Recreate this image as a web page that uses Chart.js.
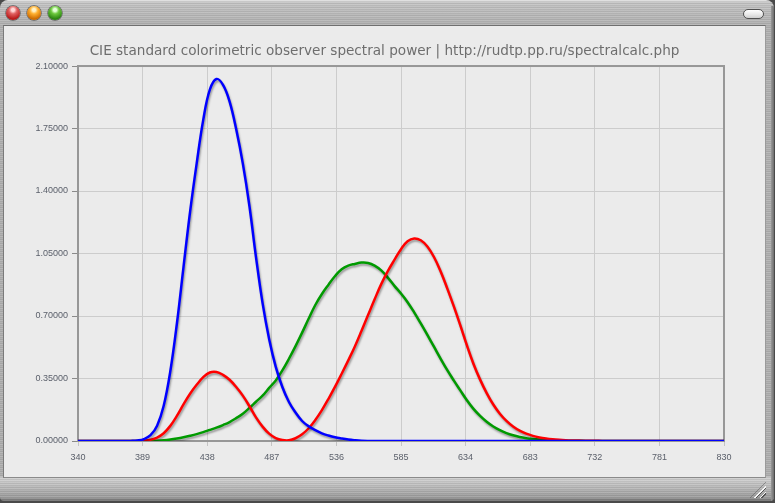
<!DOCTYPE html>
<html>
<head>
<meta charset="utf-8">
<script src="https://cdn.jsdelivr.net/npm/chart.js@4/dist/chart.umd.min.js"></script>
<style>
html,body{margin:0;padding:0;width:775px;height:503px;overflow:hidden;background:#4a4a4a;}
#win{position:absolute;left:0;top:0;width:774px;height:501px;border-radius:8px 8px 4px 4px;overflow:hidden;
 background:
  repeating-linear-gradient(to bottom, rgba(255,255,255,0.10) 0 1px, rgba(0,0,0,0.05) 1px 2px, rgba(255,255,255,0.03) 2px 3px, rgba(0,0,0,0.07) 3px 4px),
  linear-gradient(to bottom, #e2e2e2 0px, #c4c4c4 3px, #bcbcbc 12px, #b2b2b2 25px, #b0b0b0 476px, #d2d2d2 478px, #b8b8b8 488px, #9a9a9a 498px, #6a6a6a 501px);}
#win:after{content:"";position:absolute;right:0;top:6px;width:3px;bottom:0;background:linear-gradient(to right,#9a9a9a,#6e6e6e);}
#content{position:absolute;left:3px;top:25px;width:761px;height:451px;background:#ebebeb;border-top:1px solid #6f6f6f;border-left:1px solid #7a7a7a;border-right:1px solid #9a9a9a;border-bottom:1px solid #8a8a8a;}
.btn{position:absolute;top:6px;width:14px;height:14px;border-radius:50%;box-shadow:0 0 0 0.7px rgba(0,0,0,0.5);}
#b1{left:6px;background:radial-gradient(circle at 50% 28%, #ffd6d6 0 1.5px, #e06060 4px, #b81818 9px);}
#b2{left:27px;background:radial-gradient(circle at 50% 28%, #fff2c8 0 1.5px, #ffb030 4px, #cc6a00 9px);}
#b3{left:48px;background:radial-gradient(circle at 50% 28%, #e4ffd8 0 1.5px, #6cc83c 4px, #2a8410 9px);}
#pill{position:absolute;left:743px;top:9px;width:19px;height:8px;border-radius:5px;border:1px solid #505050;background:linear-gradient(to bottom,#ffffff,#e6e6e6 60%,#cfcfcf);}
#grip{position:absolute;left:750px;top:482px;width:16px;height:16px;
 background:repeating-linear-gradient(135deg, transparent 0 2px, #f4f4f4 2px 3px, #555 3px 4px);
 clip-path:polygon(100% 0,100% 100%,0 100%);}
#c{position:absolute;left:0;top:0;}
</style>
</head>
<body>
<div id="win">
 <div id="content"></div>
 <div class="btn" id="b1"></div><div class="btn" id="b2"></div><div class="btn" id="b3"></div>
 <div id="pill"></div>
 <div id="grip"></div>
</div>
<canvas id="c" width="769" height="503"></canvas>
<script>
const TITLE = 'CIE standard colorimetric observer spectral power | http://rudtp.pp.ru/spectralcalc.php';
const WAVELENGTHS = [340,345,350,355,360,365,370,375,380,385,390,395,400,405,410,415,420,425,430,435,440,445,450,455,460,465,470,475,480,485,490,495,500,505,510,515,520,525,530,535,540,545,550,555,560,565,570,575,580,585,590,595,600,605,610,615,620,625,630,635,640,645,650,655,660,665,670,675,680,685,690,695,700,705,710,715,720,725,730,735,740,745,750,755,760,765,770,775,780,785,790,795,800,805,810,815,820,825,830];
const X_BAR = [0,0,0,0,0,0,0,0,0.000160,0.000662,0.002362,0.007242,0.019110,0.043400,0.084736,0.140638,0.204492,0.264737,0.314679,0.357719,0.383734,0.386726,0.370702,0.342957,0.302273,0.254085,0.195618,0.132349,0.080507,0.041072,0.016172,0.005132,0.003816,0.015444,0.037465,0.071358,0.117749,0.172953,0.236491,0.304213,0.376772,0.451584,0.529826,0.616053,0.705224,0.793832,0.878655,0.951162,1.014160,1.074300,1.118520,1.134300,1.123990,1.089100,1.030480,0.950740,0.856297,0.754930,0.647467,0.535110,0.431567,0.343690,0.268329,0.204300,0.152568,0.112210,0.081261,0.057930,0.040851,0.028623,0.019941,0.013842,0.009577,0.006605,0.004553,0.003145,0.002175,0.001506,0.001045,0.000727,0.000508,0.000356,0.000251,0.000178,0.000126,0.000090,0.000065,0.000046,0.000033,0,0,0,0,0,0,0,0,0,0];
const Y_BAR = [0,0,0,0,0,0,0,0,0.000017,0.000072,0.000253,0.000769,0.002004,0.004509,0.008756,0.014456,0.021391,0.029497,0.038676,0.049602,0.062077,0.074704,0.089456,0.106256,0.128201,0.152761,0.185190,0.219940,0.253589,0.297665,0.339133,0.395379,0.460777,0.531360,0.606741,0.685660,0.761757,0.823330,0.875211,0.923810,0.961988,0.982200,0.991761,0.999110,0.997340,0.982380,0.955552,0.915175,0.868934,0.825623,0.777405,0.720353,0.658341,0.593878,0.527963,0.461834,0.398057,0.339554,0.283493,0.228254,0.179828,0.140211,0.107633,0.081187,0.060281,0.044096,0.031800,0.022602,0.015905,0.011130,0.007749,0.005375,0.003718,0.002565,0.001768,0.001222,0.000846,0.000586,0.000407,0.000284,0.000199,0.000140,0.000098,0.000070,0.000050,0.000036,0.000025,0.000018,0.000013,0,0,0,0,0,0,0,0,0,0];
const Z_BAR = [0,0,0,0,0,0,0,0,0.000705,0.002928,0.010482,0.032344,0.086011,0.197120,0.389366,0.656760,0.972542,1.282500,1.553480,1.798500,1.967280,2.027300,1.994800,1.900700,1.745370,1.554900,1.317560,1.030200,0.772125,0.570060,0.415254,0.302356,0.218502,0.159249,0.112044,0.082248,0.060709,0.043050,0.030451,0.020584,0.013676,0.007918,0.003988,0.001091,0,0,0,0,0,0,0,0,0,0,0,0,0,0,0,0,0,0,0,0,0,0,0,0,0,0,0,0,0,0,0,0,0,0,0,0,0,0,0,0,0,0,0,0,0,0,0,0,0,0,0,0,0,0,0];
const X_TICKS = [340,389,438,487,536,585,634,683,732,781,830];
const Y_TICKS = [0,0.35,0.70,1.05,1.40,1.75,2.10];

const pts = arr => WAVELENGTHS.map((x,i)=>({x:x, y:arr[i]}));

const frame = {
  id:'frame',
  beforeDatasetsDraw(chart){
    const {ctx, chartArea:a} = chart;
    ctx.save();
    ctx.strokeStyle = '#979797';
    ctx.lineWidth = 2;
    ctx.strokeRect(a.left, a.top, a.right-a.left, a.bottom-a.top);
    ctx.restore();
  },
  beforeDatasetDraw(chart){
    const ctx = chart.ctx;
    ctx.save();
    ctx.shadowColor = 'rgba(0,0,0,0.35)';
    ctx.shadowOffsetX = 1;
    ctx.shadowOffsetY = 2;
    ctx.shadowBlur = 2;
  },
  afterDatasetDraw(chart){ chart.ctx.restore(); }
};

const tickFont = {family:'Liberation Sans', size:9};
new Chart(document.getElementById('c'), {
  type:'line',
  data:{datasets:[
    {label:'z', data:pts(Z_BAR), borderColor:'#0000ff'},
    {label:'x', data:pts(X_BAR), borderColor:'#ff0000'},
    {label:'y', data:pts(Y_BAR), borderColor:'#009a00'}
  ]},
  options:{
    responsive:false, animation:false, events:[],
    elements:{point:{radius:0}, line:{borderWidth:2.5, tension:0.4, fill:false}},
    layout:{padding:0},
    plugins:{
      legend:{display:false}, tooltip:{enabled:false},
      title:{display:true, text:TITLE, color:'#6e6e6e',
        font:{family:'DejaVu Sans', size:13.6, weight:'normal', lineHeight:1.2},
        padding:{top:43.4, bottom:6.3}}
    },
    scales:{
      x:{type:'linear', min:340, max:830,
        afterBuildTicks:s=>{s.ticks = X_TICKS.map(v=>({value:v}));},
        afterFit:s=>{s.height = 62;},
        grid:{color:'#cccccc', lineWidth:1, tickLength:5, tickColor:'#c4c4c4'},
        border:{color:'#979797', width:2},
        ticks:{color:'#5b606b', font:tickFont, padding:6, maxRotation:0, autoSkip:false, callback:v=>String(v)}},
      y:{type:'linear', min:0, max:2.1,
        afterBuildTicks:s=>{s.ticks = Y_TICKS.map(v=>({value:v}));},
        afterFit:s=>{s.width = 78;},
        grid:{color:'#cccccc', lineWidth:1, tickLength:6, tickColor:'#8a8a8a'},
        border:{color:'#979797', width:2},
        ticks:{color:'#5b606b', font:tickFont, padding:4, autoSkip:false, callback:v=>Number(v).toFixed(5)}},
      y2:{position:'right', type:'linear', min:0, max:1,
        afterFit:s=>{s.width = 45;},
        grid:{display:false, drawOnChartArea:false, drawTicks:false},
        border:{display:false},
        ticks:{display:false}}
    }
  },
  plugins:[frame]
});
</script>
</body>
</html>
